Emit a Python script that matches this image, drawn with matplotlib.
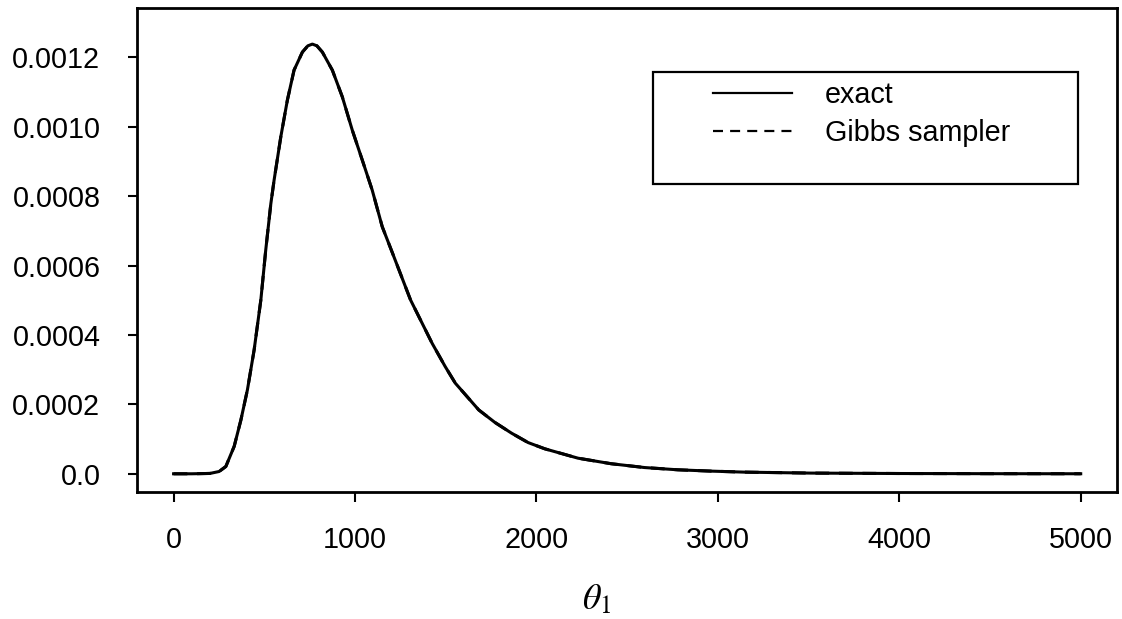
import numpy as np
import matplotlib
matplotlib.use("Agg")
import matplotlib.pyplot as plt
from matplotlib.patches import Rectangle

plt.rcParams['font.family'] = ['Liberation Sans', 'DejaVu Sans']
plt.rcParams['mathtext.fontset'] = 'stix'

# density
theta = [0, 100, 200, 251, 288, 334, 371, 407, 444, 481, 508, 536, 554, 591,
         627, 664, 710, 740, 765, 790, 820, 875, 930, 985, 1040, 1095, 1150,
         1205, 1306, 1425, 1497, 1553, 1682, 1771, 1863, 1954, 2046, 2229,
         2412, 2596, 2779, 2962, 3145, 3512, 4000, 4500, 5000]
exact = [0, 0, 0.000001, 0.0000066, 0.000021, 0.000079, 0.000155, 0.000242,
         0.000357, 0.000501, 0.000645, 0.000778, 0.000846, 0.000971, 0.001076,
         0.001163, 0.001215, 0.001233, 0.001238, 0.001233, 0.001215, 0.001163,
         0.001086, 0.00099, 0.000904, 0.000817, 0.000712, 0.000638, 0.000501,
         0.000376, 0.000309, 0.000261, 0.000184, 0.000148, 0.000117, 0.00009,
         0.000072, 0.000045, 0.000029, 0.000018, 0.0000115, 0.0000077,
         0.0000048, 0.000002, 0.0000008, 0.0000003, 0.0000001]
# Gibbs estimate lies on top of the exact curve
gibbs = list(exact)

xticks = [0, 1000, 2000, 3000, 4000, 5000]
yticks = [0.0, 0.0002, 0.0004, 0.0006, 0.0008, 0.0010, 0.0012]
ytick_labels = ['0.0', '0.0002', '0.0004', '0.0006', '0.0008', '0.0010', '0.0012']

W, H = 1122, 619
fig = plt.figure(figsize=(W / 100, H / 100), dpi=100)
ax = fig.add_axes([137.3 / W, 1 - 491.7 / H, (1117 - 137.3) / W, (491.7 - 8) / H])

l1, = ax.plot(theta, exact, color='black', lw=2.2, solid_joinstyle='round')
l2, = ax.plot(theta, gibbs, color='black', lw=2.2, ls=(0, (4.5, 3.2)))

ax.set_xlim(-200, 5200)
ax.set_ylim(-0.0000516, 0.001342)
ax.set_xticks(xticks)
ax.set_xticklabels([str(t) for t in xticks])
ax.set_yticks(yticks)
ax.set_yticklabels(ytick_labels)
ax.tick_params(axis='x', direction='out', length=7.5, width=1.5, pad=17, labelsize=20.7)
ax.tick_params(axis='y', direction='out', length=6.5, width=1.5, pad=20, labelsize=20.7)
for s in ax.spines.values():
    s.set_linewidth(2.0)

ax.set_xlabel(r'$\theta_1$', fontsize=26)
ax.xaxis.set_label_coords((597 - 137.3) / (1117 - 137.3), (491.7 - 600) / (491.7 - 8))
ax.xaxis.label.set_va('center')

# legend box like R's legend()
fig.patches.append(Rectangle((653.3 / W, 1 - 184 / H), (1078.3 - 653.3) / W, (184 - 71.7) / H,
                             transform=fig.transFigure, fill=False, ec='black', lw=1.6))
leg = fig.legend([l1, l2], ['exact', 'Gibbs sampler'], loc='upper left',
                 bbox_to_anchor=(712.7 / W, 1 - 81 / H), frameon=False,
                 fontsize=20.7, borderpad=0, handlelength=2.75, handletextpad=1.15,
                 labelspacing=0.35, borderaxespad=0)
for h in leg.legend_handles:
    h.set_linewidth(1.6)

fig.savefig('out.png', dpi=100)
